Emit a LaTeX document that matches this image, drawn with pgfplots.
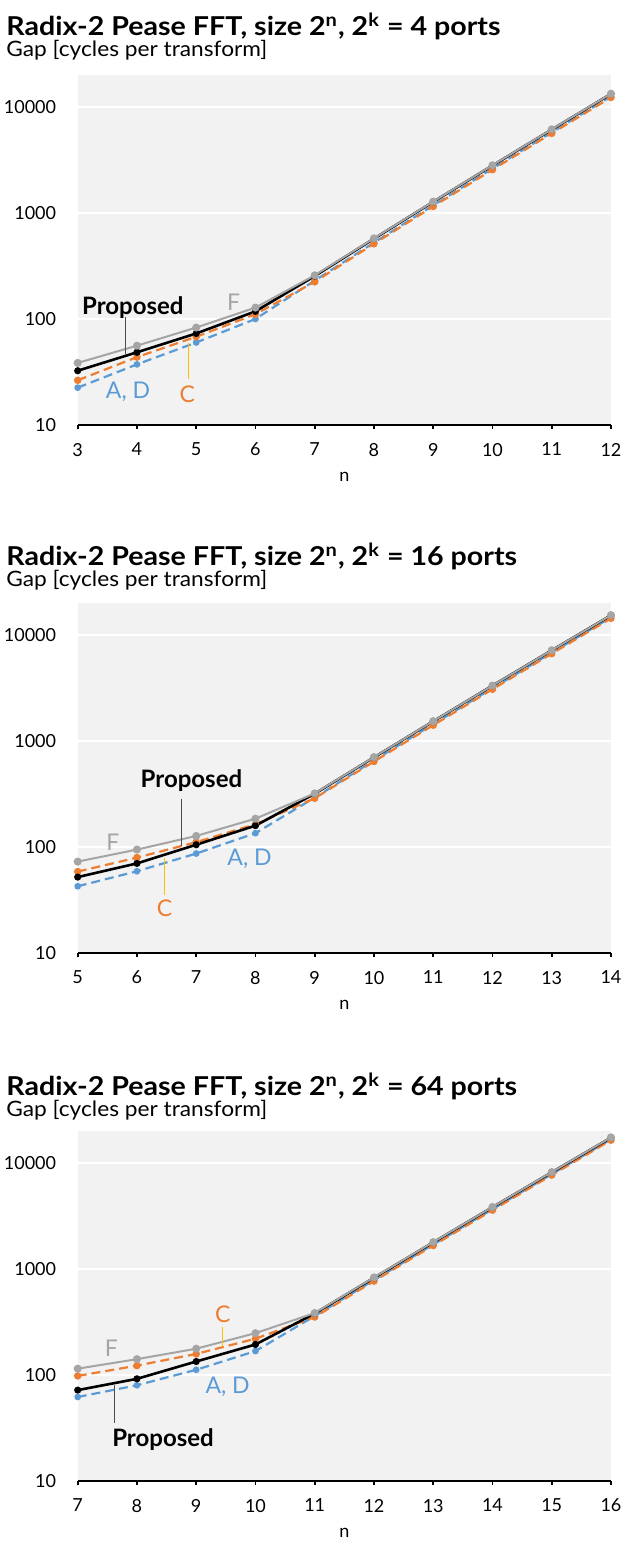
\documentclass[border=0pt]{standalone}
\usepackage{fontspec}
\setmainfont{Lato}
\usepackage{graphicx}
\usepackage{pgfplots}
\pgfplotsset{compat=1.18}
\definecolor{cF}{HTML}{A5A5A5}
\definecolor{cC}{HTML}{ED7D31}
\definecolor{cA}{HTML}{5B9BD5}
\definecolor{bg}{HTML}{F2F2F2}
\definecolor{lead}{HTML}{FFC000}
\newcommand{\annfont}{\fontsize{11.5}{13}\selectfont}
\newcommand{\propfont}{\bfseries\fontsize{12}{13}\selectfont}
\pgfplotsset{
  pease/.style={
    scale only axis, width=266.65pt, height=175pt,
    ymin=10, ymax=20000,
    axis background/.style={fill=bg},
    axis x line*=bottom, axis y line*=left,
    y axis line style={draw=none},
    x axis line style={line width=0.9pt, black},
    ytick={10,100,1000,10000}, yticklabels={10,100,1000,10000},
    ytick style={draw=none},
    ymajorgrids, major grid style={white, line width=0.8pt},
    tick label style={font=\fontsize{9}{10}\selectfont},
    yticklabel style={anchor=east, inner sep=0pt, xshift=-8.4pt},
    xticklabel style={anchor=north, inner sep=0pt, yshift=-6.6pt},
    tick align=outside, major tick length=2.2pt,
    xtick style={black, line width=0.8pt},
    clip=false,
    xlabel={n},
    xlabel style={at={(axis description cs:0.5,0)}, anchor=base, inner sep=0pt, yshift=-28.2pt, font=\fontsize{9}{10}\selectfont},
  },
  sF/.style={color=cF, line width=1pt, mark=*, mark size=1.5pt, mark options={solid, fill=cF}},
  sP/.style={color=black, line width=1.3pt, mark=*, mark size=1.1pt, mark options={solid, fill=black}},
  sC/.style={color=cC, line width=1.1pt, dash pattern=on 4.5pt off 2.5pt, mark=*, mark size=1.3pt, mark options={solid, fill=cC}},
  sA/.style={color=cA, line width=1.1pt, dash pattern=on 4.5pt off 2.5pt, mark=*, mark size=1.1pt, mark options={solid, fill=cA}},
}
\newcommand{\ptitle}[2]{%
  \node[anchor=base west, inner sep=0pt, font=\bfseries\fontsize{13}{15}\selectfont] at (3pt,#1) {\scalebox{1.10}[1]{Radix-2 Pease FFT, size 2\textsuperscript{n}, 2\textsuperscript{k} = #2 ports}};
}
\newcommand{\psub}[1]{%
  \node[anchor=base west, inner sep=0pt, font=\fontsize{10.6}{12}\selectfont] at (3pt,#1) {\scalebox{1.07}[1]{Gap [cycles per transform]}};
}
\begin{document}
\begin{tikzpicture}
\useasboundingbox (0,0) rectangle (311pt,-771pt);
% ---------- Panel 1 ----------
\ptitle{-17.5pt}{4}
\psub{-28.3pt}
\begin{semilogyaxis}[pease, /pgf/number format/assume math mode=true, at={(38.85pt,-212.5pt)}, anchor=south west,
  xmin=3, xmax=12, xtick={3,...,12}]
\addplot[sA] coordinates {(3,22.5) (4,37.3) (5,60) (6,100) (7,230) (8,525) (9,1180) (10,2620) (11,5760) (12,12550)};
\addplot[sC] coordinates {(3,26.4) (4,43.7) (5,68) (6,111) (7,224) (8,512) (9,1152) (10,2560) (11,5632) (12,12288)};
\addplot[sP] coordinates {(3,32.5) (4,48.5) (5,73) (6,118) (7,254) (8,572) (9,1272) (10,2800) (11,6110) (12,13250)};
\addplot[sF] coordinates {(3,38.5) (4,56) (5,83) (6,128) (7,258) (8,576) (9,1280) (10,2816) (11,6144) (12,13312)};
\node[inner sep=0pt, font=\propfont] at (axis cs:3.93,129) {Proposed};
\draw[black!70, line width=0.5pt] (axis cs:3.80,104.5) -- (axis cs:3.80,46.6);
\node[inner sep=0pt, text=cF, font=\annfont] at (axis cs:5.63,145) {F};
\node[inner sep=0pt, text=cC, font=\annfont] at (axis cs:4.85,19.6) {C};
\draw[lead, line width=0.5pt] (axis cs:4.87,59.4) -- (axis cs:4.87,26.9);
\node[inner sep=0pt, text=cA, font=\annfont] at (axis cs:3.85,20.6) {A, D};
\end{semilogyaxis}
% ---------- Panel 2 ----------
\ptitle{-282.6pt}{16}
\psub{-293.4pt}
\begin{semilogyaxis}[pease, /pgf/number format/assume math mode=true, at={(38.85pt,-476.5pt)}, anchor=south west,
  xmin=5, xmax=14, xtick={5,...,14}]
\addplot[sA] coordinates {(5,42.6) (6,59) (7,86.7) (8,135) (9,292) (10,655) (11,1440) (12,3140) (13,6800) (14,14650)};
\addplot[sC] coordinates {(5,58.6) (6,79.4) (7,111) (8,164) (9,288) (10,640) (11,1408) (12,3072) (13,6656) (14,14336)};
\addplot[sP] coordinates {(5,52) (6,70) (7,105) (8,159) (9,318) (10,700) (11,1530) (12,3320) (13,7150) (14,15300)};
\addplot[sF] coordinates {(5,72.8) (6,94.5) (7,127) (8,185) (9,320) (10,704) (11,1536) (12,3328) (13,7168) (14,15360)};
\node[inner sep=0pt, font=\propfont] at (axis cs:6.92,420) {Proposed};
\draw[black!70, line width=0.5pt] (axis cs:6.75,286) -- (axis cs:6.75,101.6);
\node[inner sep=0pt, text=cF, font=\annfont] at (axis cs:5.595,111) {F};
\node[inner sep=0pt, text=cC, font=\annfont] at (axis cs:6.466,26.2) {C};
\draw[lead, line width=0.5pt] (axis cs:6.47,78.7) -- (axis cs:6.47,35);
\node[inner sep=0pt, text=cA, font=\annfont] at (axis cs:7.9,76.6) {A, D};
\end{semilogyaxis}
% ---------- Panel 3 ----------
\ptitle{-547.6pt}{64}
\psub{-558.4pt}
\begin{semilogyaxis}[pease, /pgf/number format/assume math mode=true, at={(38.85pt,-740.5pt)}, anchor=south west,
  xmin=7, xmax=16, xtick={7,...,16}]
\addplot[sA] coordinates {(7,62) (8,80) (9,112) (10,168) (11,360) (12,785) (13,1700) (14,3660) (15,7840) (16,16700)};
\addplot[sC] coordinates {(7,98) (8,122.5) (9,158) (10,220) (11,352) (12,768) (13,1664) (14,3584) (15,7680) (16,16384)};
\addplot[sP] coordinates {(7,72) (8,92) (9,134) (10,194) (11,380) (12,825) (13,1780) (14,3820) (15,8150) (16,17300)};
\addplot[sF] coordinates {(7,114.7) (8,141) (9,177) (10,248) (11,384) (12,832) (13,1792) (14,3840) (15,8192) (16,17408)};
\node[inner sep=0pt, text=cF, font=\annfont] at (axis cs:7.568,179) {F};
\node[inner sep=0pt, text=cC, font=\annfont] at (axis cs:9.45,370) {C};
\draw[lead, line width=0.5pt] (axis cs:9.45,286) -- (axis cs:9.45,185);
\node[inner sep=0pt, text=cA, font=\annfont] at (axis cs:9.53,76.6) {A, D};
\node[inner sep=0pt, font=\propfont] at (axis cs:8.44,24.8) {Proposed};
\draw[black!70, line width=0.5pt] (axis cs:7.62,80.4) -- (axis cs:7.62,34.9);
\end{semilogyaxis}
\end{tikzpicture}
\end{document}
